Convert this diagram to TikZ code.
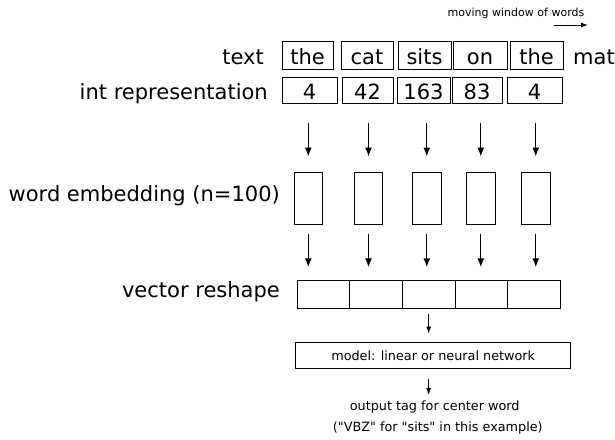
\documentclass[tikz,border=0pt]{standalone}
\usepackage{fontspec}
\setmainfont{DejaVu Sans}
\newfontfamily\plainfont{DejaVu Sans}
\usetikzlibrary{arrows.meta}
\begin{document}
\begin{tikzpicture}[x=1pt,y=-1pt,
  big/.style={font=\fontsize{21}{25}\selectfont},
  lab/.style={big, inner sep=0pt},
  wordbox/.style={draw, line width=0.9pt, inner sep=0pt, big, text height=18pt, text depth=0pt},
  embbox/.style={draw, line width=0.9pt, inner sep=0pt, minimum width=28.5pt, minimum height=52.5pt},
  resbox/.style={draw, line width=0.9pt, inner sep=0pt, minimum height=27.5pt},
  bigarr/.style={line width=1.3pt, -{Latex[length=9pt,width=7pt]}},
  smallarr/.style={line width=1pt, -{Latex[length=7pt,width=5pt]}},
  small/.style={font=\fontsize{12.8}{15}\selectfont}]
\useasboundingbox (0,0) rectangle (615,439);

% top label
\node[font=\fontsize{11}{13}\selectfont, inner sep=0pt] (mw) at (516,13) {moving window of words};
\coordinate (mwa) at (554,25);
\coordinate (mwb) at (588,25);
\draw[line width=1pt, -{Latex[length=7pt,width=5pt]}] (mwa) -- (mwb);

% text row
\node[lab, anchor=base east] (ltext) at (264,64) {text};
\node[wordbox, minimum width=51pt, minimum height=28pt] (t1) at (307.5,55) {the};
\node[wordbox, minimum width=52pt, minimum height=28pt] (t2) at (367,55) {cat};
\node[wordbox, minimum width=53pt, minimum height=28pt] (t3) at (424.5,55) {sits};
\node[wordbox, minimum width=54pt, minimum height=28pt] (t4) at (480,55) {on};
\node[wordbox, minimum width=53pt, minimum height=28pt] (t5) at (536.5,55) {the};
\node[lab, anchor=base west] (mat) at (573,64) {mat};

% int row
\node[lab, anchor=base east] (lint) at (268,99) {int representation};
\node[wordbox, minimum width=55pt, minimum height=26pt] (i1) at (309.5,90) {4};
\node[wordbox, minimum width=51pt, minimum height=26pt] (i2) at (367.5,90) {42};
\node[wordbox, minimum width=53pt, minimum height=26pt] (i3) at (423.5,90) {163};
\node[wordbox, minimum width=50pt, minimum height=26pt] (i4) at (477,90) {83};
\node[wordbox, minimum width=55pt, minimum height=26pt] (i5) at (534.5,90) {4};

% embeddings
\node[lab, anchor=base east] (lemb) at (280,201) {word embedding (n=100)};
\node[embbox] (e1) at (308.3,198.2) {};
\node[embbox] (e2) at (368.5,198.2) {};
\node[embbox] (e3) at (426.8,198.2) {};
\node[embbox] (e4) at (480.8,198.2) {};
\node[embbox] (e5) at (535.8,198.2) {};

\foreach \k in {1,...,5}{
  \draw[bigarr, shorten <=20pt, shorten >=15pt] (e\k.north |- i\k.south) -- (e\k.north);
}

% reshape
\node[lab, anchor=base east] (lres) at (280,297) {vector reshape};
\node[resbox, minimum width=51.6pt] (r1) at (323.5,294.5) {};
\node[resbox, minimum width=53pt] (r2) at (375.8,294.5) {};
\node[resbox, minimum width=52.7pt] (r3) at (428.65,294.5) {};
\node[resbox, minimum width=52.3pt] (r4) at (481.15,294.5) {};
\node[resbox, minimum width=53.4pt] (r5) at (534,294.5) {};

\foreach \k in {1,...,5}{
  \draw[bigarr, shorten <=9pt, shorten >=13pt] (e\k.south) -- (e\k.south |- r\k.north);
}

% model
\node[draw, line width=1.5pt, inner sep=0pt, minimum width=275pt, minimum height=26pt, small] (m) at (433.2,355.3) {model: linear or neural network};
\draw[smallarr, shorten <=5pt, shorten >=8pt] (r3.south) -- (r3.south |- m.north);

% output
\node[small] (o1) at (434.7,406.7) {output tag for center word};
\node[small] (o2) at (437.8,428.3) {\plainfont ("VBZ" for "sits" in this example)};
\draw[smallarr, shorten <=10pt, shorten >=2pt] (m.south -| r3.south) -- (r3.south |- o1.north);
\end{tikzpicture}
\end{document}
